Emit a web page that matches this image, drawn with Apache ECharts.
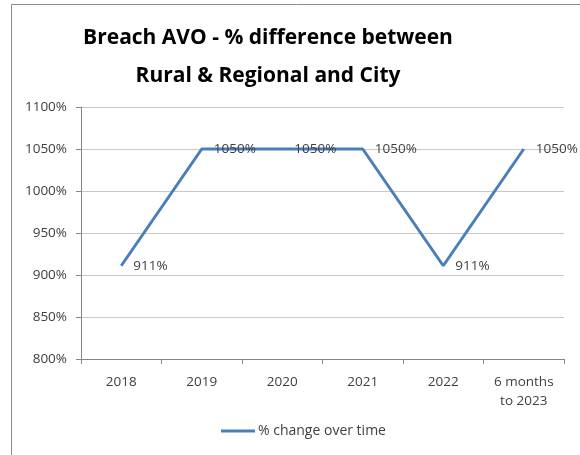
<!DOCTYPE html>
<html>
<head>
<meta charset="utf-8">
<script src="https://cdn.jsdelivr.net/npm/echarts@6/dist/echarts.min.js"></script>
<style>
  html, body { margin: 0; padding: 0; background: #fff; }
  #chart { width: 580px; height: 455px; }
</style>
</head>
<body>
<div id="chart"></div>
<script>
// Breach AVO: percentage difference between Rural & Regional and City
const categories = ['2018', '2019', '2020', '2021', '2022', '6 months\nto 2023'];
const seriesName = '% change over time';
const values = [911, 1050, 1050, 1050, 911, 1050];
const yMin = 800;
const yMax = 1100;
const yStep = 50;

const font = '"Open Sans", "Liberation Sans", sans-serif';
const chart = echarts.init(document.getElementById('chart'), null, { renderer: 'canvas' });

chart.setOption({
  backgroundColor: '#ffffff',
  animation: false,
  graphic: [{
    type: 'rect',
    shape: { x: 11.5, y: 4.5, width: 600, height: 500 },
    style: { fill: 'none', stroke: '#8c8c8c', lineWidth: 1 },
    silent: true
  }, {
    type: 'text',
    x: 268,
    y: 19,
    style: {
      text: 'Breach AVO - % difference between\nRural & Regional and City',
      align: 'center',
      verticalAlign: 'top',
      font: 'bold 21px ' + font,
      lineHeight: 38,
      fill: '#000000'
    },
    silent: true
  }],
  legend: {
    bottom: 12,
    left: 216,
    itemWidth: 34,
    itemHeight: 3,
    itemGap: 4,
    icon: 'rect',
    textStyle: { fontFamily: font, fontSize: 14, color: '#404040', padding: [0, 0, 0, -2] },
    data: [seriesName]
  },
  grid: { left: 81, right: 16, top: 107, bottom: 96, containLabel: false },
  xAxis: {
    type: 'category',
    data: categories,
    boundaryGap: true,
    axisLine: { lineStyle: { color: '#868686' } },
    axisTick: { show: true, length: 5, lineStyle: { color: '#868686' } },
    axisLabel: {
      fontFamily: font,
      fontSize: 13.5,
      color: '#404040',
      margin: 14,
      lineHeight: 19,
      interval: 0
    }
  },
  yAxis: {
    type: 'value',
    min: yMin,
    max: yMax,
    interval: yStep,
    axisLine: { show: true, lineStyle: { color: '#868686' } },
    axisTick: { show: true, length: 5, lineStyle: { color: '#868686' } },
    splitLine: { lineStyle: { color: '#c8c8c8' } },
    axisLabel: {
      fontFamily: font,
      fontSize: 13.5,
      color: '#404040',
      margin: 14,
      formatter: v => v + '%'
    }
  },
  series: [{
    name: seriesName,
    type: 'line',
    data: values,
    symbol: 'circle',
    symbolSize: 0.1,
    showSymbol: true,
    color: '#4a7ebb',
    lineStyle: { width: 3, color: '#4a7ebb' },
    label: {
      show: true,
      position: 'right',
      distance: 12,
      fontFamily: font,
      fontSize: 13.5,
      color: '#404040',
      formatter: p => p.value + '%'
    }
  }]
});
</script>
</body>
</html>
